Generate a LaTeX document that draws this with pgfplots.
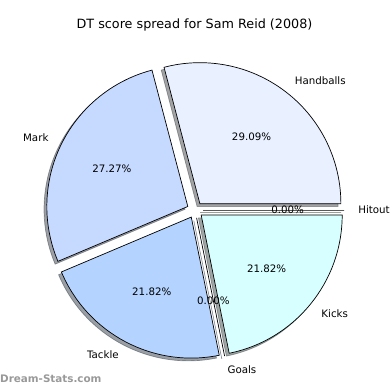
\documentclass[border=0pt]{standalone}
\usepackage{pgfplots}
\usepackage{pgfplotstable}
\pgfplotsset{compat=1.18}
\usepackage{fontspec}
\setmainfont{DejaVu Sans}
\pgfkeys{/pgf/number format/assume math mode=true}

\definecolor{cHand}{HTML}{E9F0FF}
\definecolor{cMark}{HTML}{C6D9FF}
\definecolor{cTack}{HTML}{B4D4FF}
\definecolor{cGoal}{HTML}{A8CCFF}
\definecolor{cKick}{HTML}{D8FFFF}
\definecolor{cHit}{HTML}{E0FFE0}
\definecolor{wm}{HTML}{999999}

\pgfplotstableread{
label value color
Handballs 16 cHand
Mark 15 cMark
Tackle 12 cTack
Goals 0 cGoal
Kicks 12 cKick
Hitout 0 cHit
}\piedata

\def\PCX{195}\def\PCY{180}\def\PR{141}\def\PE{8}
\newcommand\labfont{\fontsize{10.3}{12}\selectfont}

\newcommand\piepass[1]{%
  \pgfplotstablegetrowsof{\piedata}\pgfmathtruncatemacro\nrows{\pgfplotsretval-1}%
  \gdef\ptot{0}%
  \pgfplotsforeachungrouped \i in {0,...,\nrows}{%
    \pgfplotstablegetelem{\i}{value}\of\piedata
    \pgfmathsetmacro\ptmp{\ptot+\pgfplotsretval}\global\let\ptot\ptmp}%
  \gdef\pcum{0}%
  \pgfplotsforeachungrouped \i in {0,...,\nrows}{%
    \pgfplotstablegetelem{\i}{value}\of\piedata\let\pv\pgfplotsretval
    \pgfplotstablegetelem{\i}{label}\of\piedata\let\plab\pgfplotsretval
    \pgfplotstablegetelem{\i}{color}\of\piedata\let\pcol\pgfplotsretval
    \pgfmathsetmacro\aS{\pcum/\ptot*360}%
    \pgfmathsetmacro\aE{(\pcum+\pv)/\ptot*360}%
    \pgfmathsetmacro\ptmp{\pcum+\pv}\global\let\pcum\ptmp
    \pgfmathsetmacro\aM{(\aS+\aE)/2}%
    \pgfmathsetmacro\cx{\PCX+\PE*cos(\aM)}%
    \pgfmathsetmacro\cy{\PCY+\PE*sin(\aM)}%
    \pgfmathsetmacro\sx{\cx-2.8}%
    \pgfmathsetmacro\sy{\cy-2.8}%
    \pgfmathsetmacro\px{\cx+0.6*\PR*cos(\aM)}%
    \pgfmathsetmacro\py{\cy+0.6*\PR*sin(\aM)}%
    \pgfmathsetmacro\lx{\cx+1.1*\PR*cos(\aM)}%
    \pgfmathsetmacro\ly{\cy+1.1*\PR*sin(\aM)}%
    \pgfmathsetmacro\pct{\pv/\ptot*100}%
    \pgfmathsetmacro\cm{cos(\aM)}%
    \ifdim\cm pt<-0.0001pt \def\anch{east}\else\def\anch{west}\fi
    \ifcase#1\or
      \edef\doit{\noexpand\filldraw[fill=\pcol!30!black, draw=\pcol!30!black, fill opacity=0.5, draw opacity=0.5, line width=0.7bp] (axis cs:\sx,\sy) -- ++(\aS:\PR bp) arc[start angle=\aS, end angle=\aE, radius=\PR bp] -- cycle;}\doit
    \or
      \edef\doit{\noexpand\filldraw[fill=\pcol, draw=black, line width=0.7bp] (axis cs:\cx,\cy) -- ++(\aS:\PR bp) arc[start angle=\aS, end angle=\aE, radius=\PR bp] -- cycle;}\doit
    \or
      \edef\doit{\noexpand\node[font=\noexpand\labfont, inner sep=0pt, anchor=center] at (axis cs:\px,\py) {\noexpand\pgfmathprintnumber[fixed,fixed zerofill,precision=2]{\pct}\%};}\doit
      \edef\doit{\noexpand\node[font=\noexpand\labfont, inner sep=0pt, anchor=\anch] at (axis cs:\lx,\ly) {\plab};}\doit
    \fi
  }%
}

\begin{document}
\begin{tikzpicture}
\begin{axis}[hide axis, scale only axis, width=390bp, height=390bp,
  xmin=0, xmax=390, ymin=0, ymax=390, clip=false]
\path (axis cs:0,0) rectangle (axis cs:390,390);
\piepass{1}
\piepass{2}
\piepass{3}
\node[font=\fontsize{12.8}{15}\selectfont, inner sep=0pt, anchor=center] at (axis cs:194.5,365) {DT score spread for Sam Reid (2008)};
\node[font=\fontsize{10.4}{12}\selectfont\bfseries, text=wm, inner sep=0pt, anchor=west] at (axis cs:0,11) {Dream-Stats.com};
\end{axis}
\end{tikzpicture}
\end{document}
